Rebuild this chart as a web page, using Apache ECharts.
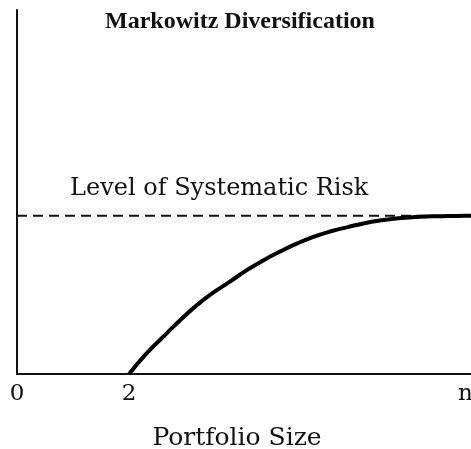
<!DOCTYPE html>
<html>
<head>
<meta charset="utf-8">
<script src="https://cdn.jsdelivr.net/npm/echarts@6/dist/echarts.min.js"></script>
<style>
html,body{margin:0;padding:0;background:#fff;}
#chart{width:471px;height:449px;}
</style>
</head>
<body>
<div id="chart"></div>
<script>
// Data
const titleText = 'Markowitz Diversification';
const xAxisTitle = 'Portfolio Size';
const levelLabel = 'Level of Systematic Risk';
const tickValues = [0, 2, 8];
const tickLabels = ['0', '2', 'n'];
const curveX = [2.0, 2.3, 2.6, 2.9, 3.2, 3.5, 3.8, 4.1, 4.4, 4.7, 5.0, 5.3, 5.6, 5.9, 6.2, 6.5, 6.8, 7.1, 7.4, 7.7, 8.0, 8.1];
const curveY = [0, 0.125, 0.232, 0.336, 0.432, 0.514, 0.584, 0.656, 0.719, 0.775, 0.825, 0.868, 0.902, 0.928, 0.953, 0.971, 0.984, 0.992, 0.996, 0.998, 1.0, 1.0];
const systematicLevel = 1;
const xMax = 8.1;
const yMax = 2.30;

const chart = echarts.init(document.getElementById('chart'));
const serif = 'DejaVu Serif';
chart.setOption({
  animation: false,
  backgroundColor: '#fff',
  title: {
    text: titleText,
    left: 105, top: 10, padding: 0,
    textStyle: {fontFamily: 'Liberation Serif', fontWeight: 'bold', fontSize: 24, color: '#111'}
  },
  grid: {left: 17, right: 0, top: 10, bottom: 75, containLabel: false, outerBoundsMode: 'none'},
  xAxis: {
    type: 'value', min: 0, max: xMax,
    name: xAxisTitle, nameLocation: 'middle', nameGap: 52,
    nameTextStyle: {fontFamily: serif, fontSize: 25, color: '#111', padding: [0, 14, 0, 0]},
    axisLine: {lineStyle: {color: '#111', width: 2}},
    axisTick: {show: false},
    splitLine: {show: false},
    axisLabel: {
      customValues: tickValues,
      margin: 9,
      fontFamily: serif, fontSize: 23, color: '#111',
      formatter: v => tickLabels[tickValues.indexOf(v)]
    }
  },
  yAxis: {
    type: 'value', min: 0, max: yMax,
    axisLine: {show: true, lineStyle: {color: '#111', width: 2}},
    axisTick: {show: false},
    axisLabel: {show: false},
    splitLine: {show: false}
  },
  graphic: [{
    type: 'text', left: 70, top: 177,
    style: {text: levelLabel, font: '24px "DejaVu Serif"', fill: '#111'}
  }],
  series: [
    {
      type: 'line', symbol: 'none',
      data: [[0, systematicLevel], [xMax, systematicLevel]],
      lineStyle: {color: '#111', width: 2, type: [10, 6]}
    },
    {
      type: 'line', symbol: 'none', smooth: 0.5,
      data: curveX.map((x, i) => [x, curveY[i]]),
      lineStyle: {color: '#000', width: 4}
    }
  ]
});
</script>
</body>
</html>
